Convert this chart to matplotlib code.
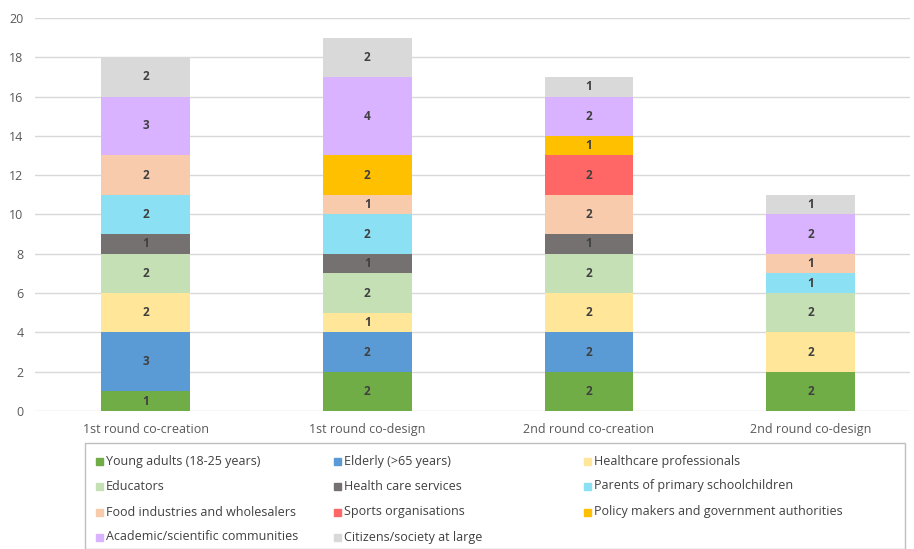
import matplotlib.pyplot as plt
import matplotlib.patches as mpatches
import numpy as np

plt.rcParams['font.family'] = ['Open Sans', 'DejaVu Sans']

categories = ['1st round co-creation', '1st round co-design',
              '2nd round co-creation', '2nd round co-design']

groups = ['Young adults (18-25 years)', 'Elderly (>65 years)', 'Healthcare professionals',
          'Educators', 'Health care services', 'Parents of primary schoolchildren',
          'Food industries and wholesalers', 'Sports organisations',
          'Policy makers and government authorities',
          'Academic/scientific communities', 'Citizens/society at large']

young = [1, 2, 2, 2]
elderly = [3, 2, 2, 0]
healthcare = [2, 1, 2, 2]
educators = [2, 2, 2, 2]
care_services = [1, 1, 1, 0]
parents = [2, 2, 0, 1]
food = [2, 1, 2, 1]
sports = [0, 0, 2, 0]
policy = [0, 2, 1, 0]
academic = [3, 4, 2, 2]
citizens = [2, 2, 1, 1]

series = [young, elderly, healthcare, educators, care_services, parents,
          food, sports, policy, academic, citizens]
colors = ['#70AD47', '#5B9BD5', '#FFE699', '#C5E0B4', '#767171', '#8BE0F4',
          '#F8CBAD', '#FF6666', '#FFC000', '#D9B3FF', '#D9D9D9']

fig = plt.figure(figsize=(9.14, 5.49), dpi=100)
ax = fig.add_axes([0.038, 0.2514, 0.958, 0.716])

x = np.arange(len(categories))
bottom = np.zeros(len(categories))
for vals, col in zip(series, colors):
    vals = np.array(vals, dtype=float)
    ax.bar(x, vals, 0.4, bottom=bottom, color=col, zorder=3)
    for xi, v, b in zip(x, vals, bottom):
        if v > 0:
            ax.text(xi, b + v / 2, f'{int(v)}', ha='center', va='center',
                    fontsize=8.5, fontweight='bold', color='#404040', zorder=4)
    bottom += vals

ax.set_ylim(0, 20)
ax.set_xlim(-0.5, 3.45)
ax.set_yticks(range(0, 21, 2))
ax.set_xticks(x)
ax.set_xticklabels(categories)
ax.grid(axis='y', color='#D9D9D9', linewidth=1, zorder=0)
for s in ax.spines.values():
    s.set_visible(False)
ax.tick_params(length=0, labelsize=9, colors='#595959', pad=8)
ax.tick_params(axis='x', pad=9)

# legend box
fig.patches.append(mpatches.Rectangle((85 / 914, 0), 820 / 914, 1 - 443 / 549,
                                      transform=fig.transFigure, fill=False,
                                      edgecolor='#BFBFBF', linewidth=1))
col_x = [99, 337, 587]
row_y = [461, 486, 512, 537]
for i, (name, col) in enumerate(zip(groups, colors)):
    px = col_x[i % 3]
    py = row_y[i // 3]
    fig.patches.append(mpatches.Rectangle(((px - 3.5) / 914, 1 - (py + 3.5) / 549),
                                          7 / 914, 7 / 549, transform=fig.transFigure,
                                          color=col))
    fig.text((px + 7) / 914, 1 - py / 549, name, ha='left', va='center',
             fontsize=9, color='#404040')

fig.savefig('out.png', dpi=100)
